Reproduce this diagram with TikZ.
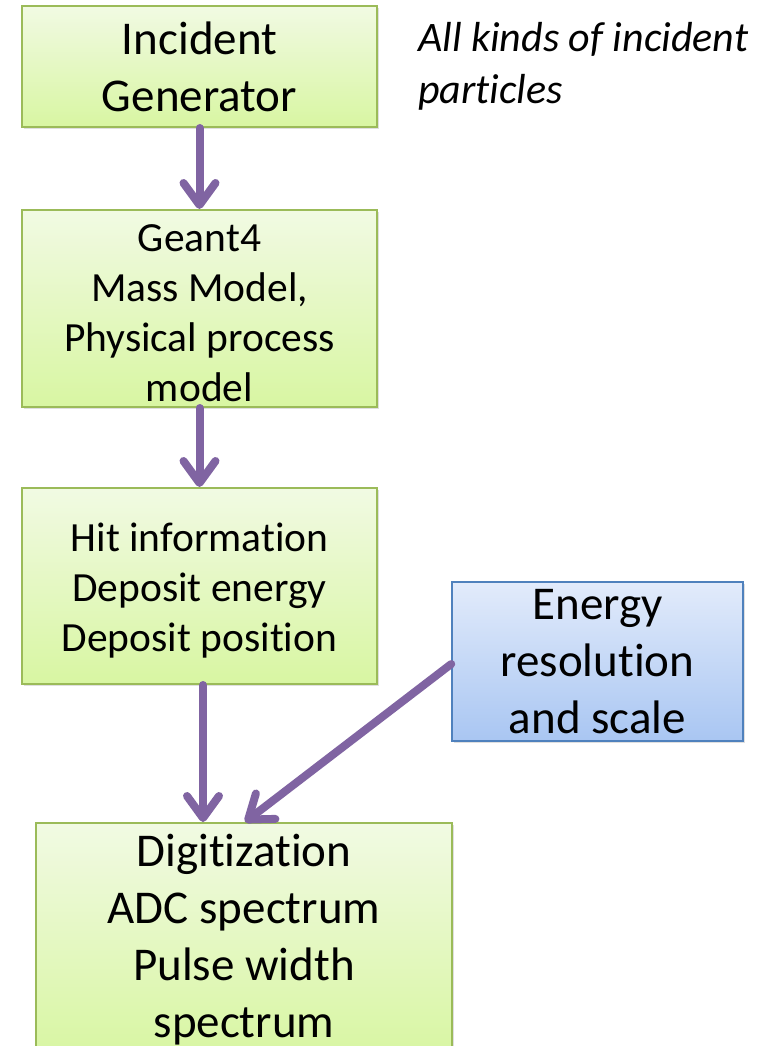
\documentclass[tikz,border=0pt]{standalone}
\usepackage{fontspec}
\setmainfont{Carlito}[Ligatures=NoCommon]
\usetikzlibrary{arrows.meta,shadows}
\definecolor{gborder}{HTML}{9BBB59}
\definecolor{gtop}{HTML}{F1FAE3}
\definecolor{gbot}{HTML}{D8F6A2}
\definecolor{bborder}{HTML}{4F81BD}
\definecolor{btop}{HTML}{E2EBFB}
\definecolor{bbot}{HTML}{A9C6F2}
\definecolor{apurple}{HTML}{8064A2}
\tikzset{
  gbox/.style={draw=gborder, line width=2pt, top color=gtop, bottom color=gbot,
    align=center, inner sep=0pt, text=black,
    drop shadow={opacity=0.25, shadow xshift=2pt, shadow yshift=-2pt}},
  bbox/.style={draw=bborder, line width=1.5pt, top color=btop, bottom color=bbot,
    align=center, inner sep=0pt, text=black,
    drop shadow={opacity=0.25, shadow xshift=2pt, shadow yshift=-2pt}},
  boxtext/.style={align=center, inner sep=0pt, text=black},
  bigfont/.style={font=\fontsize{47}{57}\selectfont},
  midfont/.style={font=\fontsize{41.5}{50}\selectfont},
  arr/.style={draw=apurple, line width=8pt, line cap=round,
    -{Straight Barb[length=22pt,width=32pt,round]}}
}
\begin{document}
\begin{tikzpicture}[x=1pt,y=-1pt]
\useasboundingbox (0,0) rectangle (770,1046);
\clip (0,0) rectangle (770,1046);
\fill[white] (0,0) rectangle (770,1046);

\node[gbox, bigfont, minimum width=355pt, minimum height=121pt] (b1) at (199.5,66.5)
  {Incident\\Generator};
\node[gbox, minimum width=355pt, minimum height=197pt] (b2) at (199.5,308.5) {};
\node[boxtext, midfont] (t2) at (199.5,313)
  {Geant4\\Mass Model,\\Physical process\\model};
\node[gbox, minimum width=355pt, minimum height=196pt] (b3) at (199.5,586) {};
\node[boxtext, midfont] (t3) at (199.5,591)
  {Hit information\\Deposit energy\\Deposit position};
\node[bbox, bigfont, minimum width=291pt, minimum height=159pt] (b4) at (597.5,661.5)
  {Energy\\resolution\\and scale};
\node[gbox, bigfont, minimum width=416pt, minimum height=234pt] (dig) at (244,940)
  {Digitization\\ADC spectrum\\Pulse width\\spectrum};

\node[anchor=north west, align=left, inner sep=0pt,
  font=\itshape\fontsize{42}{52}\selectfont] (note) at (418,22)
  {All kinds of incident\\particles};

\draw[arr] (b1.south) -- (b2.north);
\draw[arr] (b2.south) -- (b3.north);
\draw[arr] ([xshift=3.5pt]b3.south) -- ([xshift=3.5pt]b3.south |- dig.north);
\draw[arr] ([yshift=-2.5pt]b4.west) -- ([xshift=1pt]dig.north);
\end{tikzpicture}
\end{document}
